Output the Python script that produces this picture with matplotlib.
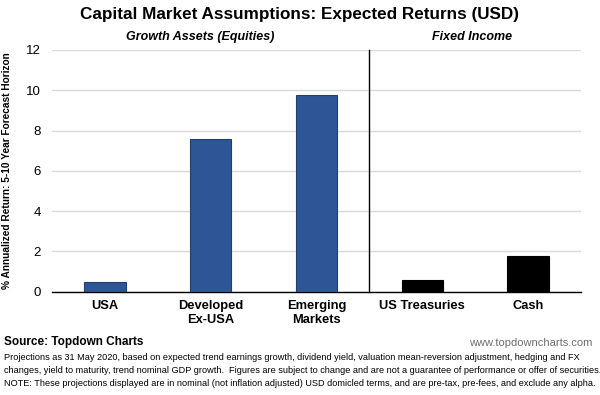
import matplotlib
matplotlib.use("Agg")
import matplotlib.pyplot as plt

plt.rcParams['font.family'] = ['Liberation Sans', 'DejaVu Sans']

categories = ["USA", "Developed\nEx-USA", "Emerging\nMarkets", "US Treasuries", "Cash"]
returns = [0.50, 7.57, 9.77, 0.58, 1.77]
groups = ["Growth Assets (Equities)", "Fixed Income"]
yticks = [0, 2, 4, 6, 8, 10, 12]

colors = ["#2E5596", "#2E5596", "#2E5596", "#000000", "#000000"]
edges = ["#1F3F73", "#1F3F73", "#1F3F73", "#000000", "#000000"]

fig = plt.figure(figsize=(6.0, 3.95), dpi=100)
ax = fig.add_axes([52/600, 1 - 291.7/395, (581-52)/600, (291.7-50)/395])

x = list(range(len(categories)))
ax.bar(x, returns, width=0.39, color=colors, edgecolor=edges, linewidth=0.8, zorder=3)

ax.set_xlim(-0.5, 4.5)
ax.set_ylim(0, 12)
ax.set_yticks(yticks)
ax.set_yticklabels([str(t) for t in yticks], fontsize=9.5)
ax.set_xticks(x)
ax.set_xticklabels(categories, fontsize=9.3, fontweight='bold', linespacing=1.2)
ax.tick_params(axis='both', length=0)
ax.tick_params(axis='x', pad=6)
ax.tick_params(axis='y', pad=8)
ax.grid(axis='y', color='#D9D9D9', linewidth=1, zorder=0)
for s in ['top', 'right', 'left']:
    ax.spines[s].set_visible(False)
ax.spines['bottom'].set_color('#000000')
ax.spines['bottom'].set_linewidth(1)

ax.axvline(2.5, ymin=0, ymax=1.0, color='black', linewidth=1, zorder=4, clip_on=False)

ax.text(0.9, 12.35, groups[0], ha='center', va='bottom', fontsize=9,
        fontweight='bold', fontstyle='italic')
ax.text(3.47, 12.35, groups[1], ha='center', va='bottom', fontsize=9,
        fontweight='bold', fontstyle='italic')

ax.set_ylabel("% Annualized Return: 5-10 Year Forecast Horizon", fontsize=7.3,
              fontweight='bold', labelpad=10)

fig.text(0.5, 1 - 15/395, "Capital Market Assumptions: Expected Returns (USD)",
         ha='center', va='center', fontsize=12.3, fontweight='bold')

fig.text(4/600, 1 - 342/395, "Source: Topdown Charts", ha='left', va='center',
         fontsize=8.5, fontweight='bold')
fig.text(592/600, 1 - 343/395, "www.topdowncharts.com", ha='right', va='center',
         fontsize=8, color='#6E6E6E')
notes = [
    "Projections as 31 May 2020, based on expected trend earnings growth, dividend yield, valuation mean-reversion adjustment, hedging and FX",
    "changes, yield to maturity, trend nominal GDP growth.  Figures are subject to change and are not a guarantee of performance or offer of securities.",
    "NOTE: These projections displayed are in nominal (not inflation adjusted) USD domicled terms, and are pre-tax, pre-fees, and exclude any alpha.",
]
for i, line in enumerate(notes):
    fig.text(4/600, 1 - (357 + 13.5*i)/395, line, ha='left', va='center', fontsize=6.55)

fig.savefig("out.png", dpi=100)
